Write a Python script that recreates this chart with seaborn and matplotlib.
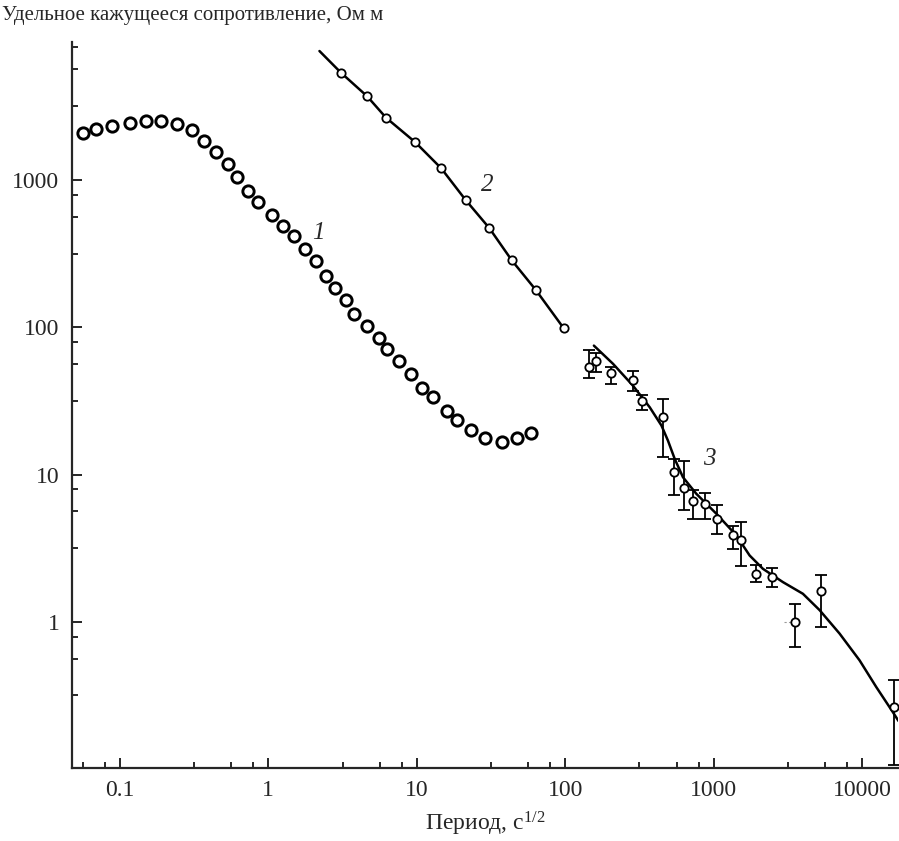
import numpy as np
import pandas as pd
import matplotlib
import matplotlib.pyplot as plt
import seaborn as sns
from matplotlib.ticker import LogLocator, NullFormatter, FixedLocator, FixedFormatter

matplotlib.use("Agg")

# кривая 1 (кружки без линии)
c1_period = [0.056, 0.0695, 0.0888, 0.1166, 0.149, 0.190, 0.244, 0.308, 0.371, 0.445,
             0.532, 0.618, 0.726, 0.857, 1.06, 1.25, 1.48, 1.76, 2.08, 2.44,
             2.80, 3.31, 3.80, 4.65, 5.55, 6.31, 7.62, 9.16, 10.9, 12.9,
             15.9, 18.8, 23.2, 28.8, 37.6, 47.2, 59.0]
c1_rho = [2094, 2230, 2325, 2421, 2497, 2522, 2382, 2170, 1846, 1549,
          1284, 1048, 838, 706, 582, 488, 413, 339, 280, 223,
          186, 152, 122, 102, 84.3, 71.0, 59.2, 48.1, 38.8, 33.6,
          27.1, 23.4, 20.0, 17.7, 16.7, 17.7, 19.2]

# кривая 2 (линия с маркерами)
c2_period = [3.09, 4.62, 6.21, 9.77, 14.6, 21.3, 30.8, 43.7, 63.1, 97.4]
c2_rho = [5335, 3705, 2643, 1802, 1200, 732, 471, 284, 180, 98.8]
c2_line_period = [2.21] + c2_period
c2_line_rho = [7500] + c2_rho

# кривая 3: точки с погрешностями
c3_period = [144.6, 162, 205, 284, 331, 456, 538, 628, 726, 869,
             1052, 1350, 1538, 1920, 2485, 3548, 5254, 16370]
c3_rho = [53.4, 59.3, 48.6, 44.1, 31.4, 24.7, 10.4, 8.12, 6.56, 6.33,
          5.01, 3.90, 3.57, 2.10, 2.03, 1.00, 1.61, 0.262]
c3_hi = [70.0, 66.4, 53.4, 50.7, 34.8, 32.6, 12.8, 12.4, 7.87, 7.46,
         6.23, 4.44, 4.75, 2.42, 2.33, 1.32, 2.07, 0.40]
c3_lo = [45.3, 49.4, 41.2, 37.1, 27.2, 13.1, 7.28, 5.70, 5.01, 5.01,
         3.96, 3.13, 2.39, 1.85, 1.72, 0.675, 0.92, 0.106]

# кривая 3: модельная линия
c3_fit_period = [156, 210, 286, 371, 445, 492, 546, 621, 764, 1042,
                 1422, 1747, 2147, 2929, 3992, 5174, 7050, 9610, 12450, 16100, 17600]
c3_fit_rho = [75.0, 56.4, 40.1, 28.6, 21.5, 17.0, 12.8, 9.59, 7.40, 5.42,
              3.86, 2.82, 2.29, 1.86, 1.55, 1.20, 0.832, 0.548, 0.361, 0.244, 0.212]

curve_labels = ["1", "2", "3"]
label_period = [2.17, 29.8, 940]
label_rho = [437, 925, 12.8]

x_ticks = [0.1, 1, 10, 100, 1000, 10000]
x_tick_labels = ["0.1", "1", "10", "100", "1000", "10000"]
y_ticks = [1, 10, 100, 1000]
y_tick_labels = ["1", "10", "100", "1000"]

sns.set_style("ticks")
plt.rcParams["font.family"] = ["Liberation Serif", "DejaVu Serif"]
plt.rcParams["mathtext.fontset"] = "custom"
plt.rcParams["mathtext.rm"] = "Liberation Serif"
plt.rcParams["mathtext.default"] = "regular"

fig = plt.figure(figsize=(8.99, 8.41), dpi=100)
ax = fig.add_axes([0.080, 0.087, 0.919, 0.863])

df1 = pd.DataFrame({"period": c1_period, "rho": c1_rho})
sns.scatterplot(data=df1, x="period", y="rho", ax=ax, marker="o", s=66,
                facecolor="white", edgecolor="black", linewidth=2.1, zorder=3)

df2 = pd.DataFrame({"period": c2_line_period, "rho": c2_line_rho})
sns.lineplot(data=df2, x="period", y="rho", ax=ax, color="black", lw=1.8,
             sort=False, estimator=None, zorder=2)
ax.plot(c2_period, c2_rho, ls="none", marker="o", ms=6, mfc="white",
        mec="black", mew=1.3, zorder=3)

df3 = pd.DataFrame({"period": c3_fit_period, "rho": c3_fit_rho})
sns.lineplot(data=df3, x="period", y="rho", ax=ax, color="black", lw=1.8,
             sort=False, estimator=None, zorder=2)

rho = np.array(c3_rho)
yerr = [rho - np.array(c3_lo), np.array(c3_hi) - rho]
ax.errorbar(c3_period, c3_rho, yerr=yerr, fmt="o", ms=6, mfc="white",
            mec="black", mew=1.3, ecolor="black", elinewidth=1.3,
            capsize=4.5, capthick=1.3, zorder=3)

# бледный штрих слева от точки около 3500
ax.plot([3000, 3380], [1.0, 1.0], color="0.6", lw=0.8, ls=(0, (2, 2)), zorder=1)

for lab, xp, yp in zip(curve_labels, label_period, label_rho):
    ax.text(xp, yp, lab, fontsize=18, style="italic", ha="center", va="center")

ax.set_xscale("log")
ax.set_yscale("log")
ax.set_xlim(0.0475, 17480)
ax.set_ylim(0.102, 8630)

subs = [3.16, 5.62, 7.94]
ax.xaxis.set_major_locator(FixedLocator(x_ticks))
ax.xaxis.set_major_formatter(FixedFormatter(x_tick_labels))
ax.xaxis.set_minor_locator(LogLocator(base=10, subs=subs, numticks=20))
ax.xaxis.set_minor_formatter(NullFormatter())
ax.yaxis.set_major_locator(FixedLocator(y_ticks))
ax.yaxis.set_major_formatter(FixedFormatter(y_tick_labels))
ax.yaxis.set_minor_locator(LogLocator(base=10, subs=subs, numticks=20))
ax.yaxis.set_minor_formatter(NullFormatter())

ax.tick_params(which="major", direction="in", length=7, width=1.4,
               labelsize=17, pad=9)
ax.tick_params(which="minor", direction="in", length=4, width=1.4)
for side in ["top", "right"]:
    ax.spines[side].set_visible(False)
for side in ["left", "bottom"]:
    ax.spines[side].set_linewidth(1.6)

ax.set_xlabel("Период, с$^{1/2}$", fontsize=17, labelpad=6)
ax.set_ylabel("")
fig.text(0.002, 0.982, "Удельное кажущееся сопротивление, Ом м",
         fontsize=15, ha="left", va="center")

fig.savefig("out.png", dpi=100)
